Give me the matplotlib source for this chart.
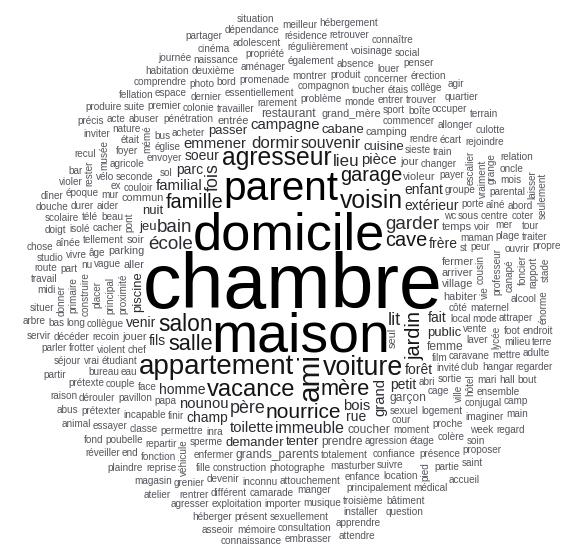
import numpy as np
import matplotlib
matplotlib.use("Agg")
import matplotlib.pyplot as plt
from matplotlib.font_manager import FontProperties
from matplotlib.textpath import TextPath
from matplotlib.transforms import Affine2D

# words of the cloud and their (estimated) frequencies
words = [
    "chambre", "maison", "domicile", "parent", "ami", "appartement", "voiture", "agresseur", "voisin", "vacance",
    "salon", "mère", "salle", "nourrice", "famille", "garage", "cave", "jardin", "garder", "école",
    "bain", "lit", "fois", "père", "lieu", "dormir", "souvenir", "grand", "immeuble", "familial",
    "pièce", "toilette", "nounou", "campagne", "bois", "emmener", "extérieur", "homme", "fait", "parc",
    "petit", "soeur", "forêt", "fils", "enfant", "frère", "venir", "champ", "rue", "public",
    "cabane", "tenter", "passer", "demander", "jeu", "cuisine", "piscine", "nuit", "garçon", "coucher",
    "prendre", "restaurant", "grands_parents", "femme", "violeur", "arriver", "village", "fermer", "aller", "seul",
    "habiter", "grand_mère", "parking", "jouer", "jour", "entrée", "commun", "camping", "temps", "soir",
    "côté", "abri", "sexuel", "sol", "local", "film", "inra", "proximité", "envoyer", "rarement",
    "totalement", "pont", "chef", "papa", "travailler", "invité", "wc", "couloir", "principal", "acheter",
    "problème", "agression", "cour", "st", "sieste", "finir", "sperme", "église", "photographe", "permettre",
    "essentiellement", "face", "changer", "pénétration", "seconde", "sortie", "enfermer", "cage", "construction", "vague",
    "étudiant", "masturber", "collègue", "tellement", "caravane", "groupe", "moment", "compagnon", "vente", "maman",
    "monde", "commencer", "payer", "logement", "sous", "cacher", "eau", "peur", "rendre", "cousin",
    "incapable", "attouchement", "confiance", "pavillon", "maternel", "violent", "promenade", "recoin", "beau", "porte",
    "mode", "laver", "colonie", "professeur", "agricole", "couple", "bus", "sport", "aider", "inconnu",
    "train", "club", "placer", "construire", "mémé", "véhicule", "hôtel", "voir", "âge", "dernier",
    "montrer", "toucher", "enfance", "mur", "étage", "escalier", "ville", "suivre", "entrer", "repartir",
    "proche", "devenir", "classe", "manger", "bureau", "foyer", "vie", "fille", "bord", "ex",
    "produit", "camarade", "boîte", "centre", "aménager", "premier", "également", "lycée", "vraiment", "nu",
    "principalement", "écart", "photo", "télé", "plage", "différent", "était", "concerner", "fonction", "musique",
    "abuser", "hangar", "vélo", "aîné", "importer", "mari", "vivre", "étais", "location", "vrai",
    "deuxième", "espace", "allonger", "présence", "conjugal", "canapé", "colère", "frotter", "absence", "propriété",
    "isolé", "exploitation", "dérouler", "long", "trouver", "attraper", "grenier", "décéder", "régulièrement", "troisième",
    "durer", "époque", "mettre", "reprise", "ensemble", "prétexter", "prétexte", "parental", "poubelle", "primaire",
    "musée", "ouvrir", "naissance", "occuper", "sexuellement", "part", "imaginer", "aînée", "comprendre", "essayer",
    "foot", "nature", "mer", "collège", "rejoindre", "grange", "foncier", "donner", "rester", "alcool",
    "milieu", "pied", "louer", "rentrer", "séjour", "scolaire", "installer", "adolescent", "suite", "présent",
    "voisinage", "abord", "habitation", "hall", "week", "end", "consultation", "partie", "magasin", "résidence",
    "fellation", "coter", "mois", "acte", "studio", "cinéma", "bâtiment", "doigt", "érection", "violer",
    "agresser", "apprendre", "médical", "bas", "recul", "quartier", "héberger", "inviter", "oncle", "rapport",
    "dépendance", "traiter", "soin", "plaindre", "culotte", "journée", "mémoire", "parler", "retrouver", "penser",
    "travail", "tour", "douche", "proposer", "bar", "endroit", "regarder", "question", "atelier", "midi",
    "produire", "situer", "réveiller", "terrain", "relation", "adulte", "meilleur", "chose", "embrasser", "propre",
    "camp", "social", "stade", "connaissance", "bout", "raison", "dîner", "partager", "hébergement", "énorme",
    "précis", "saint", "fond", "partir", "asseoir", "connaître", "route", "laisser", "animal", "agir",
    "attendre", "seulement", "terre", "servir", "abus", "main", "situation", "regard", "accueil", "arbre",
]
counts = [
    70, 48, 45, 33, 22, 20, 19, 17, 17, 16,
    15, 14, 14, 13, 12, 12, 12, 12, 11, 11,
    11, 10, 10, 10, 9, 9, 8, 7, 8, 7,
    7, 7, 7, 7, 7, 7, 6, 6, 6, 6,
    6, 6, 6, 6, 6, 6, 6, 6, 6, 5,
    5, 5, 5, 5, 5, 5, 5, 5, 4, 4,
    4, 4, 4, 4, 3, 3, 3, 3, 3, 3,
    3, 3, 3, 3, 3, 3, 3, 3, 3, 3,
    2, 2, 2, 2, 2, 2, 2, 2, 2, 2,
    2, 2, 2, 2, 2, 2, 2, 2, 2, 2,
    2, 2, 2, 2, 2, 2, 2, 2, 2, 2,
    2, 2, 2, 2, 2, 2, 2, 2, 2, 2,
    2, 2, 2, 2, 2, 2, 2, 2, 2, 2,
    2, 2, 2, 2, 2, 2, 2, 2, 2, 2,
    2, 2, 2, 2, 2, 2, 2, 2, 2, 2,
    2, 2, 2, 2, 2, 2, 2, 2, 2, 2,
    2, 2, 2, 2, 2, 2, 2, 2, 2, 2,
    2, 2, 2, 2, 2, 2, 2, 2, 2, 2,
    2, 2, 2, 2, 2, 2, 2, 2, 2, 2,
    2, 2, 2, 2, 2, 2, 2, 2, 2, 2,
    2, 2, 2, 2, 2, 2, 2, 2, 2, 2,
    2, 2, 2, 2, 2, 2, 2, 2, 2, 2,
    2, 2, 2, 2, 2, 2, 2, 2, 2, 2,
    2, 2, 2, 2, 2, 2, 2, 2, 2, 2,
    2, 2, 2, 2, 2, 2, 2, 2, 2, 2,
    2, 2, 2, 2, 2, 2, 2, 2, 2, 2,
    2, 2, 2, 2, 2, 2, 2, 2, 2, 2,
    2, 2, 2, 2, 2, 2, 2, 2, 2, 2,
    2, 2, 2, 2, 2, 2, 2, 2, 2, 2,
    2, 2, 2, 2, 2, 2, 2, 2, 2, 2,
    2, 2, 2, 2, 2, 2, 2, 2, 2, 2,
    2, 2, 2, 2, 2, 2, 2, 2, 2, 2,
    2, 2, 2, 2, 2, 2, 2, 2, 2, 2,
    2, 2, 2, 2, 2, 2, 2, 2, 2, 2,
    2, 2, 2, 2, 2, 2, 2, 2, 2, 2,
    2, 2, 2, 2, 2, 2, 2, 2, 2, 2,
    2, 2, 2, 2, 2, 2, 2, 2, 2, 2,
]

# words drawn rotated (reading upward)
vertical = {"ami", "jardin", "fois", "grand", "piscine", "seul", "hôtel", "proximité", "pont", "principal",
            "professeur", "placer", "construire", "mémé", "véhicule", "escalier", "ville", "primaire", "musée",
            "grange", "foncier", "donner", "rester", "pied", "lycée", "vraiment", "canapé", "stade", "cousin",
            "laisser", "seulement", "rapport", "énorme", "vie"}

W, H, DPI = 575, 558, 100
CX, CY, RADIUS = 293, 281, 279
MIN_PX, MAX_PX = 10, 77
START = 2.0  # spiral start angle (radians, screen coords)

fp = FontProperties(family="Liberation Sans")
cmin, cmax = min(counts), max(counts)


def font_px(c):
    return MIN_PX + (MAX_PX - MIN_PX) * (c - cmin) / (cmax - cmin)


def word_color(px):
    if px >= 40:
        return "#000000"
    if px >= 19:
        return "#151515"
    if px >= 12.5:
        return "#2c2a32"
    return "#57545e"


def word_box(word, px, rot):
    # ink box in pixel space (y down), relative to the text anchor
    tp = TextPath((0, 0), word, size=px, prop=fp)
    path = Affine2D().rotate_deg(rot).scale(1, -1).transform_path(tp)
    ext = path.get_extents()
    x0, y0 = int(np.floor(ext.x0)), int(np.floor(ext.y0))
    x1, y1 = int(np.ceil(ext.x1)), int(np.ceil(ext.y1))
    return x0, y0, x1 - x0, y1 - y0


# spiral of candidate centres, from the middle outwards
ring = 1.6
b = ring / (2 * np.pi)
s = np.arange(0, 260000, 1.5)
theta = np.sqrt(2 * s / b)
r = b * theta
sel = r < RADIUS
spx = CX + r[sel] * np.cos(theta[sel] + START)
spy = CY + r[sel] * np.sin(theta[sel] + START)

yy, xx = np.mgrid[0:H, 0:W]
occ = ((xx - CX) ** 2 + (yy - CY) ** 2) > RADIUS ** 2

fig = plt.figure(figsize=(W / DPI, H / DPI), dpi=DPI)
ax = fig.add_axes([0, 0, 1, 1])
ax.set_xlim(0, W)
ax.set_ylim(H, 0)
ax.axis("off")

order = sorted(range(len(words)), key=lambda i: -counts[i])
pad = 2
for i in order:
    word = words[i]
    px = font_px(counts[i])
    rot = 90 if word in vertical else 0
    x0, y0, w, h = word_box(word, px, rot)

    S = np.zeros((H + 1, W + 1), dtype=np.int32)
    S[1:, 1:] = occ.astype(np.int32).cumsum(0).cumsum(1)
    left = np.round(spx - w / 2).astype(int)
    top = np.round(spy - h / 2).astype(int)
    ok = (left >= 0) & (top >= 0) & (left + w <= W) & (top + h <= H)
    L, T = left[ok], top[ok]
    tot = S[T + h, L + w] - S[T, L + w] - S[T + h, L] + S[T, L]
    free = np.flatnonzero(tot == 0)
    if free.size == 0:
        continue
    l, t = L[free[0]], T[free[0]]
    occ[max(0, t - pad):t + h + pad, max(0, l - pad):l + w + pad] = True

    ax.text(l - x0, t - y0, word, fontproperties=fp, fontsize=px * 72 / DPI,
            rotation=rot, rotation_mode="anchor", ha="left", va="baseline",
            color=word_color(px))

fig.savefig("out.png", dpi=DPI, facecolor="white")
